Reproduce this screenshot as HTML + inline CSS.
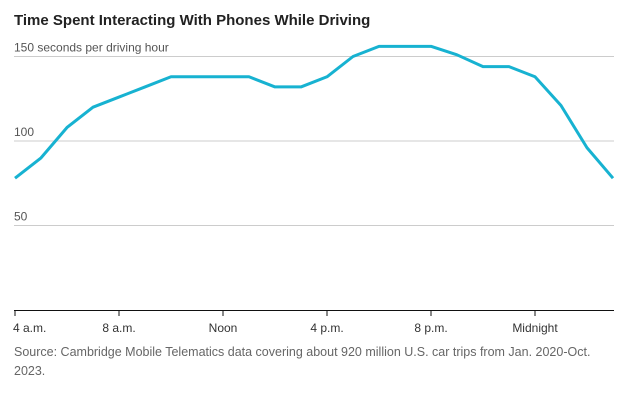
<!DOCTYPE html>
<html><head><meta charset="utf-8"><style>
body{margin:0;background:#fff;font-family:"Liberation Sans",sans-serif;}
svg text{font-family:"Liberation Sans",sans-serif;}
</style></head><body>
<svg width="633" height="400">
<text x="14" y="25" font-size="15" font-weight="bold" fill="#222">Time Spent Interacting With Phones While Driving</text>
<g id="grid"></g>
<g id="xaxis"></g>
<path id="line" fill="none" stroke="#17b2d1" stroke-width="3" stroke-linejoin="round"/>
<text x="14" y="356" font-size="12.5" fill="#666">Source: Cambridge Mobile Telematics data covering about 920 million U.S. car trips from Jan. 2020-Oct.</text>
<text x="14" y="375" font-size="12.5" fill="#666">2023.</text>
</svg>
<script>
const hours = [4,5,6,7,8,9,10,11,12,13,14,15,16,17,18,19,20,21,22,23,24,25,26,27];
const values = [78,90,108,120,126,132,138,138,138,138,132,132,138,150,156,156,156,151,144,144,138,121,96,78];
const yTicks = [50,100,150];
const yTickLabels = ["50","100","150 seconds per driving hour"];
const xTicks = [4,8,12,16,20,24];
const xTickLabels = ["4 a.m.","8 a.m.","Noon","4 p.m.","8 p.m.","Midnight"];
const NS="http://www.w3.org/2000/svg";
const x = h => 15 + (h-4)*26;
const y = v => 310 - v*84.5/50;
const grid=document.getElementById('grid');
yTicks.forEach((t,i)=>{
  const l=document.createElementNS(NS,'line');
  l.setAttribute('x1',14);l.setAttribute('x2',614);l.setAttribute('y1',y(t));l.setAttribute('y2',y(t));
  l.setAttribute('stroke','#ccc');l.setAttribute('stroke-width','1');
  
  
  grid.appendChild(l);
  const tx=document.createElementNS(NS,'text');
  tx.setAttribute('x',14);tx.setAttribute('y',y(t)-5);tx.setAttribute('font-size','12');tx.setAttribute('fill','#555');
  tx.textContent=yTickLabels[i];
  
  
  grid.appendChild(tx);
});
const xa=document.getElementById('xaxis');
const base=document.createElementNS(NS,'line');
base.setAttribute('x1',14);base.setAttribute('x2',614);base.setAttribute('y1',310.5);base.setAttribute('y2',310.5);
base.setAttribute('stroke','#111');


xa.appendChild(base);
xTicks.forEach((t,i)=>{
  const l=document.createElementNS(NS,'line');
  l.setAttribute('x1',x(t));l.setAttribute('x2',x(t));l.setAttribute('y1',310);l.setAttribute('y2',316);l.setAttribute('stroke','#111');
  
  
  xa.appendChild(l);
  const tx=document.createElementNS(NS,'text');
  tx.setAttribute('x',x(t));tx.setAttribute('y',332);tx.setAttribute('font-size','12');tx.setAttribute('fill','#333');
  tx.setAttribute('text-anchor', i===0?'start':'middle');
  if(i===0) tx.setAttribute('x',x(t)-2);
  tx.textContent=xTickLabels[i];
  
  
  xa.appendChild(tx);
});
document.getElementById('line').setAttribute('d', hours.map((h,i)=>(i?'L':'M')+x(h)+','+y(values[i])).join(' '));
</script>
</body></html>
